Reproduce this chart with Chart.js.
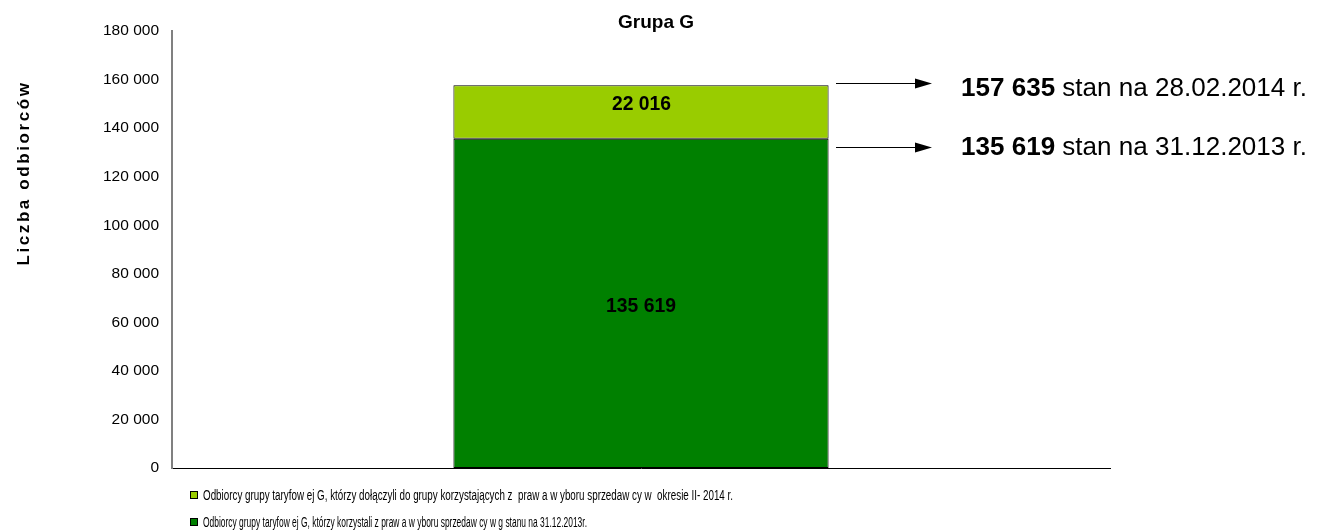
<!DOCTYPE html>
<html>
<head>
<meta charset="utf-8">
<script src="https://cdn.jsdelivr.net/npm/chart.js@4"></script>
<style>
  html, body { margin: 0; padding: 0; background: #fff; }
  #wrap { width: 1318px; height: 531px; }
</style>
</head>
<body>
<div id="wrap"><canvas id="chart"></canvas></div>
<script>
const categories = ['Grupa G'];
const seriesNames = [
    'Odbiorcy grupy taryfow ej G, którzy korzystali z praw a w yboru sprzedaw cy w g stanu na 31.12.2013r.',
    'Odbiorcy grupy taryfow ej G, którzy dołączyli do grupy korzystających z  praw a w yboru sprzedaw cy w  okresie II- 2014 r.'
];
const baseValues = [135619];
const addedValues = [22016];
const totalValues = [157635];
const notes = ['stan na 28.02.2014 r.', 'stan na 31.12.2013 r.'];
const yTicks = [0, 20000, 40000, 60000, 80000, 100000, 120000, 140000, 160000, 180000];

const fmt = v => String(v).replace(/\B(?=(\d{3})+(?!\d))/g, ' ');

// tekst zwężony do zadanej szerokości
function narrowText(ctx, text, x, y, width) {
    const w = ctx.measureText(text).width;
    ctx.save();
    ctx.translate(x, y);
    ctx.scale(width / w, 1);
    ctx.fillText(text, 0, 0);
    ctx.restore();
}

const extras = {
    id: 'extras',
    afterDraw(chart) {
        const ctx = chart.ctx;
        const y = chart.scales.y;
        const cx = chart.getDatasetMeta(0).data[0].x;
        ctx.save();
        ctx.fillStyle = '#000';
        ctx.textBaseline = 'middle';

        // tytuł
        ctx.font = 'bold 19px "Liberation Sans", Arial';
        ctx.textAlign = 'center';
        ctx.fillText(categories[0], 656, 23);

        // tytuł osi Y
        ctx.save();
        ctx.translate(24, 173);
        ctx.rotate(-Math.PI / 2);
        ctx.font = 'bold 17px "Liberation Sans", Arial';
        ctx.letterSpacing = '2.6px';
        ctx.fillText('Liczba odbiorców', 0, 0);
        ctx.restore();

        // etykiety słupków
        ctx.textAlign = 'left';
        ctx.font = 'bold 20px "Liberation Sans", Arial';
        const yBase = y.getPixelForValue(baseValues[0]);
        const yTop = y.getPixelForValue(totalValues[0]);
        const y0 = y.getPixelForValue(0);
        narrowText(ctx, fmt(addedValues[0]), cx - 29, (yTop + yBase) / 2 - 8, 59);
        narrowText(ctx, fmt(baseValues[0]), cx - 35, (yBase + y0) / 2 + 3, 70);

        // strzałki i opisy
        const rows = [[totalValues[0], -2, 4, notes[0]], [baseValues[0], 8, 9, notes[1]]];
        rows.forEach(r => {
            const py = Math.round(y.getPixelForValue(r[0]) + r[1]) + 0.5;
            ctx.strokeStyle = '#000';
            ctx.lineWidth = 1;
            ctx.beginPath();
            ctx.moveTo(836, py);
            ctx.lineTo(920, py);
            ctx.stroke();
            ctx.beginPath();
            ctx.moveTo(932, py);
            ctx.lineTo(915, py - 5);
            ctx.lineTo(915, py + 5);
            ctx.closePath();
            ctx.fill();

            const ty = y.getPixelForValue(r[0]) + r[2];
            const num = fmt(r[0]);
            ctx.font = 'bold 25px "Liberation Sans", Arial';
            const nw = ctx.measureText(num + ' ').width;
            ctx.font = '25px "Liberation Sans", Arial';
            const rw = ctx.measureText(r[3]).width;
            const k = 346 / (nw + rw);
            ctx.save();
            ctx.translate(961, ty);
            ctx.scale(k, 1);
            ctx.font = 'bold 25px "Liberation Sans", Arial';
            ctx.fillText(num, 0, 0);
            ctx.font = '25px "Liberation Sans", Arial';
            ctx.fillText(r[3], nw, 0);
            ctx.restore();
        });

        // legenda
        const leg = [
            [chart.data.datasets[1], 495, 530],
            [chart.data.datasets[0], 522, 384]
        ];
        ctx.font = '14px "Liberation Sans", Arial';
        leg.forEach(l => {
            ctx.fillStyle = l[0].backgroundColor;
            ctx.fillRect(190.5, l[1] - 3.5, 7, 7);
            ctx.strokeStyle = '#000';
            ctx.strokeRect(190.5, l[1] - 3.5, 7, 7);
            ctx.fillStyle = '#000';
            narrowText(ctx, l[0].label, 203, l[1] + 1, l[2]);
        });
        ctx.restore();
    }
};

new Chart(document.getElementById('chart'), {
    type: 'bar',
    data: {
        labels: categories,
        datasets: [{
            label: seriesNames[0],
            data: baseValues,
            backgroundColor: '#008000',
            borderColor: '#000',
            borderWidth: 1,
            borderSkipped: false
        }, {
            label: seriesNames[1],
            data: addedValues,
            backgroundColor: '#99CC00',
            borderColor: '#000',
            borderWidth: 1,
            borderSkipped: false
        }]
    },
    options: {
        responsive: true,
        maintainAspectRatio: false,
        animation: false,
        layout: { padding: { left: 0, right: 208, top: 31, bottom: 63 } },
        plugins: {
            legend: { display: false },
            title: { display: false },
            tooltip: { enabled: false }
        },
        datasets: { bar: { barPercentage: 0.4, categoryPercentage: 1 } },
        scales: {
            x: {
                stacked: true,
                grid: { display: false, drawTicks: false },
                border: { color: '#000', width: 1 },
                ticks: { display: false },
                afterFit: s => { s.height = 0; }
            },
            y: {
                stacked: true,
                min: 0,
                max: 180000,
                afterBuildTicks: s => { s.ticks = yTicks.map(v => ({ value: v })); },
                afterFit: s => { s.width = 172; },
                grid: { display: false, drawTicks: true, tickLength: 6, tickColor: '#555' },
                border: { color: '#808080', width: 2 },
                ticks: {
                    color: '#000',
                    padding: 7,
                    font: { family: '"Liberation Sans", Arial', size: 15.5 },
                    callback: v => fmt(v)
                }
            }
        }
    },
    plugins: [extras]
});
</script>
</body>
</html>
